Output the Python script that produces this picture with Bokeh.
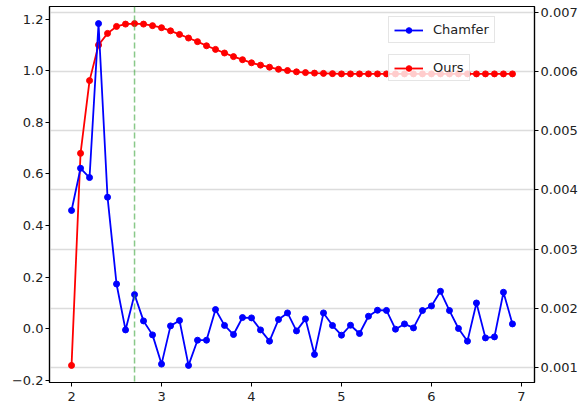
from bokeh.plotting import figure
from bokeh.models import (Range1d, LinearAxis, FixedTicker, Grid, Span, Legend,
                          LegendItem, PrintfTickFormatter)
from bokeh.embed import file_html
from bokeh.resources import INLINE

# ---- data -------------------------------------------------------------
x_vals = [2.0, 2.1, 2.2, 2.3, 2.4, 2.5, 2.6, 2.7, 2.8, 2.9,
          3.0, 3.1, 3.2, 3.3, 3.4, 3.5, 3.6, 3.7, 3.8, 3.9,
          4.0, 4.1, 4.2, 4.3, 4.4, 4.5, 4.6, 4.7, 4.8, 4.9,
          5.0, 5.1, 5.2, 5.3, 5.4, 5.5, 5.6, 5.7, 5.8, 5.9,
          6.0, 6.1, 6.2, 6.3, 6.4, 6.5, 6.6, 6.7, 6.8, 6.9]

ours = [-0.142, 0.680, 0.962, 1.100, 1.145, 1.172, 1.181, 1.183, 1.181, 1.175,
        1.167, 1.155, 1.141, 1.127, 1.113, 1.097, 1.083, 1.069, 1.055, 1.043,
        1.031, 1.022, 1.014, 1.006, 1.001, 0.996, 0.993, 0.991, 0.990, 0.989,
        0.988, 0.988, 0.988, 0.988, 0.988, 0.988, 0.988, 0.988, 0.988, 0.988,
        0.988, 0.988, 0.988, 0.988, 0.988, 0.988, 0.988, 0.988, 0.988, 0.988]

chamfer = [0.003653, 0.004366, 0.004209, 0.006811, 0.003877, 0.002410, 0.001634, 0.002231, 0.001786, 0.001550,
           0.001056, 0.001702, 0.001793, 0.001034, 0.001460, 0.001460, 0.001978, 0.001710, 0.001556, 0.001843,
           0.001837, 0.001634, 0.001444, 0.001809, 0.001921, 0.001617, 0.001820, 0.001219, 0.001921, 0.001708,
           0.001545, 0.001713, 0.001573, 0.001865, 0.001966, 0.001963, 0.001646, 0.001735, 0.001668, 0.001961,
           0.002039, 0.002287, 0.001961, 0.001658, 0.001444, 0.002089, 0.001499, 0.001516, 0.002270, 0.001735]

marker_x = 2.7

x_ticks = [2, 3, 4, 5, 6, 7]
left_ticks = [-0.2, 0.0, 0.2, 0.4, 0.6, 0.8, 1.0, 1.2]
left_labels = ["\u22120.2", "0.0", "0.2", "0.4", "0.6", "0.8", "1.0", "1.2"]
right_ticks = [0.001, 0.002, 0.003, 0.004, 0.005, 0.006, 0.007]
right_labels = ["0.001", "0.002", "0.003", "0.004", "0.005", "0.006", "0.007"]

# ---- ranges with matplotlib-like 5% margins -----------------------------
def padded(vals, m=0.05):
    lo, hi = min(vals), max(vals)
    d = (hi - lo) * m
    return lo - d, hi + d

xl, xh = padded(x_vals)
ll, lh = padded(ours)
rl, rh = padded(chamfer)

FONT = "DejaVu Sans"
FS = "13px"

p = figure(width=584, height=407, output_backend="svg", toolbar_location=None,
           x_range=Range1d(xl, xh), y_range=Range1d(ll, lh),
           min_border_left=49, min_border_right=50, min_border_top=6,
           min_border_bottom=25)
p.extra_y_ranges = {"right": Range1d(rl, rh)}

p.outline_line_color = "black"
p.outline_line_width = 1.2
p.background_fill_color = "white"
p.border_fill_color = "white"

p.xgrid.visible = False
p.ygrid.visible = False

def style_axis(ax):
    ax.axis_line_color = "black"
    ax.axis_line_width = 1.2
    ax.major_tick_line_color = "black"
    ax.major_tick_out = 4
    ax.major_tick_in = 0
    ax.minor_tick_out = 0
    ax.minor_tick_in = 0
    ax.major_label_text_font = FONT
    ax.major_label_text_font_size = FS
    ax.major_label_text_color = "#222222"
    ax.major_label_standoff = 2

xax = p.xaxis[0]
xax.ticker = FixedTicker(ticks=x_ticks)
style_axis(xax)
xax.major_label_standoff = 5

lax = p.yaxis[0]
lax.ticker = FixedTicker(ticks=left_ticks)
lax.formatter = PrintfTickFormatter(format="%.1f")
lax.major_label_overrides = {t: l for t, l in zip(left_ticks, left_labels)}
style_axis(lax)

rax = LinearAxis(y_range_name="right", ticker=FixedTicker(ticks=right_ticks),
                 formatter=PrintfTickFormatter(format="%.3f"))
rax.major_label_overrides = {t: l for t, l in zip(right_ticks, right_labels)}
style_axis(rax)
p.add_layout(rax, "right")

grid = Grid(dimension=1, ticker=FixedTicker(ticks=right_ticks), y_range_name="right",
            grid_line_color="#dcdcdc", grid_line_width=1.5)
p.add_layout(grid)

# vertical dashed marker
p.add_layout(Span(location=marker_x, dimension="height", line_color="#3aa53a",
                  line_alpha=0.6, line_dash="6 3", line_width=1.5))

# series
r_line = p.line(x_vals, ours, line_color="#ff0000", line_width=1.8)
r_pts = p.scatter(x_vals, ours, size=6, fill_color="#ff0000", line_color="#ff0000")
b_line = p.line(x_vals, chamfer, line_color="#0000ff", line_width=1.8, y_range_name="right")
b_pts = p.scatter(x_vals, chamfer, size=6, fill_color="#0000ff", line_color="#0000ff",
                  y_range_name="right")

def make_legend(label, renderers, loc):
    lg = Legend(items=[LegendItem(label=label, renderers=renderers)], location=loc)
    lg.label_text_font = FONT
    lg.label_text_font_size = FS
    lg.label_text_color = "#222222"
    lg.glyph_width = 29
    lg.glyph_height = 14
    lg.label_height = 14
    lg.label_standoff = 10
    lg.padding = 5
    lg.margin = 0
    lg.spacing = 0
    lg.border_line_color = "#cccccc"
    lg.border_line_width = 1
    lg.background_fill_color = "white"
    lg.background_fill_alpha = 0.8
    return lg

p.add_layout(make_legend("Chamfer", [b_line, b_pts], (339, 339)), "center")
p.add_layout(make_legend("Ours", [r_line, r_pts], (339, 301)), "center")

open("out.html", "w").write(file_html(p, INLINE))
